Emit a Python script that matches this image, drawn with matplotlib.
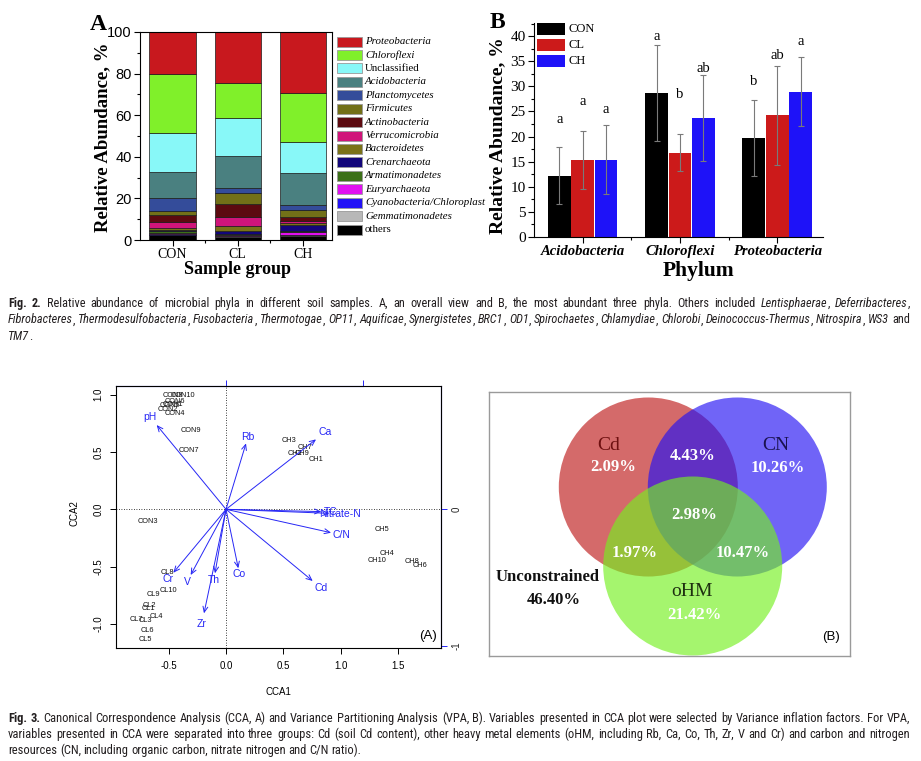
import numpy as np
import matplotlib
matplotlib.use('Agg')
import matplotlib.pyplot as plt
from matplotlib import font_manager
from matplotlib.patches import Rectangle, Circle
from matplotlib.ticker import MultipleLocator, FixedLocator

W, H = 921, 761
SERIF = 'Liberation Serif'
SANS = 'Liberation Sans'

# ---------------- Fig. 2A: relative abundance (%), legend order (top of stack first)
phyla = ['Proteobacteria', 'Chloroflexi', 'Unclassified', 'Acidobacteria', 'Planctomycetes',
         'Firmicutes', 'Actinobacteria', 'Verrucomicrobia', 'Bacteroidetes', 'Crenarchaeota',
         'Armatimonadetes', 'Euryarchaeota', 'Cyanobacteria/Chloroplast', 'Gemmatimonadetes',
         'others']
phylum_colors = ['#C8181E', '#80F02A', '#88F8F8', '#4A8080', '#344C9A',
                 '#727018', '#5C0A10', '#D0157A', '#7A7218', '#12067A',
                 '#3C7018', '#E010F0', '#2212F6', '#B8B8B8', '#000000']
groups = ['CON', 'CL', 'CH']
con_pct = [20.0, 28.5, 18.9, 12.3, 6.4, 2.1, 3.0, 2.9, 1.2, 0.5, 0.8, 0.3, 0.5, 0.4, 2.2]
cl_pct = [24.5, 16.8, 18.4, 15.2, 2.7, 5.3, 5.9, 4.5, 2.4, 1.3, 0.6, 0.3, 0.3, 0.5, 1.3]
ch_pct = [29.3, 23.7, 14.7, 15.7, 2.2, 3.2, 2.1, 1.1, 1.0, 2.7, 0.3, 1.6, 0.2, 0.2, 2.0]

# ---------------- Fig. 2B: three most abundant phyla
top_phyla = ['Acidobacteria', 'Chloroflexi', 'Proteobacteria']
con_mean = [12.2, 28.7, 19.7]
cl_mean = [15.3, 16.8, 24.2]
ch_mean = [15.4, 23.7, 28.9]
con_sd = [5.7, 9.6, 7.5]
cl_sd = [5.8, 3.7, 9.9]
ch_sd = [6.8, 8.6, 6.9]
con_sig = ['a', 'a', 'b']
cl_sig = ['a', 'b', 'ab']
ch_sig = ['a', 'ab', 'a']
con_sig_y = [23.3, 39.9, 31.0]
cl_sig_y = [27.0, 28.4, 36.1]
ch_sig_y = [25.3, 33.6, 38.9]

# ---------------- Fig. 3A: CCA site scores and biplot arrows
site_names = ['CON1', 'CON2', 'CON3', 'CON4', 'CON5', 'CON6', 'CON7', 'CON8', 'CON9', 'CON10',
              'CL1', 'CL2', 'CL3', 'CL4', 'CL5', 'CL6', 'CL7', 'CL8', 'CL9', 'CL10',
              'CH1', 'CH2', 'CH3', 'CH4', 'CH5', 'CH6', 'CH7', 'CH8', 'CH9', 'CH10']
site_x = [-0.459, -0.503, -0.677, -0.444, -0.488, -0.444, -0.322, -0.459, -0.305, -0.372,
          -0.673, -0.668, -0.706, -0.610, -0.700, -0.682, -0.778, -0.511, -0.633, -0.503,
          0.784, 0.601, 0.549, 1.405, 1.362, 1.690, 0.688, 1.623, 0.659, 1.312]
site_y = [0.918, 0.872, -0.108, 0.834, 0.901, 0.938, 0.511, 0.990, 0.685, 0.990,
          -0.867, -0.837, -0.971, -0.936, -1.131, -1.058, -0.959, -0.549, -0.745, -0.710,
          0.436, 0.488, 0.604, -0.384, -0.174, -0.494, 0.537, -0.457, 0.488, -0.442]
env_names = ['pH', 'Rb', 'Ca', 'TC', 'Nitrate-N', 'C/N', 'Cd', 'Cr', 'V', 'Th', 'Co', 'Zr']
env_x = [-0.604, 0.174, 0.784, 0.83, 0.90, 0.915, 0.755, -0.459, -0.308, -0.096, 0.107, -0.192]
env_y = [0.735, 0.575, 0.610, -0.02, -0.035, -0.204, -0.625, -0.553, -0.573, -0.558, -0.514, -0.907]

# ---------------- Fig. 3B: variance partitioning (%)
vpa_sets = ['Cd', 'CN', 'oHM']
vpa_only = [2.09, 10.26, 21.42]
vpa_cd_cn = 4.43
vpa_cd_ohm = 1.97
vpa_cn_ohm = 10.47
vpa_all = 2.98
vpa_unconstrained = 46.40

caption2 = [
  '**Fig. 2.** Relative abundance of microbial phyla in different soil samples. A, an overall view and B, the most abundant three phyla. Others included *Lentisphaerae*, *Deferribacteres*,',
  '*Fibrobacteres*, *Thermodesulfobacteria*, *Fusobacteria*, *Thermotogae*, *OP11*, *Aquificae*, *Synergistetes*, *BRC1*, *OD1*, *Spirochaetes*, *Chlamydiae*, *Chlorobi*, *Deinococcus-Thermus*, *Nitrospira*, *WS3* and',
  '*TM7*.',
]
caption3 = [
  '**Fig. 3.** Canonical Correspondence Analysis (CCA, A) and Variance Partitioning Analysis (VPA, B). Variables presented in CCA plot were selected by Variance inflation factors. For VPA,',
  'variables presented in CCA were separated into three groups: Cd (soil Cd content), other heavy metal elements (oHM, including Rb, Ca, Co, Th, Zr, V and Cr) and carbon and nitrogen',
  'resources (CN, including organic carbon, nitrate nitrogen and C/N ratio).',
]


def rect(l, t, r, b):
  return [l / W, 1 - b / H, (r - l) / W, (b - t) / H]


def fpos(x, y):
  return x / W, 1 - y / H


fig = plt.figure(figsize=(W / 100, H / 100), dpi=100)
renderer = fig.canvas.get_renderer()

# ================= Fig. 2A
axA = fig.add_axes(rect(140, 32, 332, 240))
xa = np.arange(len(groups))
stack = np.array([con_pct, cl_pct, ch_pct]).T
bottom = np.zeros(len(groups))
for i in range(len(phyla) - 1, -1, -1):
  axA.bar(xa, stack[i], 0.71, bottom=bottom, color=phylum_colors[i],
          edgecolor='#1a1a1a', linewidth=0.5, zorder=2)
  bottom += stack[i]
axA.set_xlim(-0.5, 2.45)
axA.set_ylim(0, 100)
axA.set_xticks(xa)
axA.set_xticklabels(groups, family=SERIF, fontsize=10)
axA.xaxis.set_minor_locator(FixedLocator([0.5, 1.5]))
axA.yaxis.set_major_locator(MultipleLocator(20))
axA.yaxis.set_minor_locator(MultipleLocator(10))
axA.tick_params(direction='out', length=4, width=0.8, pad=2)
axA.tick_params(which='minor', direction='out', length=2.5, width=0.8)
for lab in axA.get_yticklabels():
  lab.set_family(SANS)
  lab.set_fontsize(10.5)
for s in axA.spines.values():
  s.set_linewidth(0.8)
fig.text(*fpos(103, 137), 'Relative Abundance, %', rotation=90, ha='center', va='center',
         family=SERIF, fontweight='bold', fontsize=13.5)
fig.text(*fpos(237, 270), 'Sample group', ha='center', va='center',
         family=SERIF, fontweight='bold', fontsize=13)
fig.text(*fpos(98, 24), 'A', ha='center', va='center', family=SERIF, fontweight='bold', fontsize=17)

# legend of panel A (no frame)
for i, (name, col) in enumerate(zip(phyla, phylum_colors)):
  yc = 41.5 + i * 13.43
  fig.patches.append(Rectangle(fpos(337, yc + 5), 25 / W, 10 / H, transform=fig.transFigure,
                               facecolor=col, edgecolor='#999999', lw=0.6))
  style = 'normal' if name in ('Unclassified', 'others') else 'italic'
  fig.text(*fpos(365, yc), name, fontsize=7.8, family=SERIF, style=style, va='center')

# ================= Fig. 2B
axB = fig.add_axes(rect(534, 23, 823, 237))
xb = np.arange(len(top_phyla))
off = 0.24
series = [
  ('CON', con_mean, con_sd, con_sig, con_sig_y, '#000000'),
  ('CL', cl_mean, cl_sd, cl_sig, cl_sig_y, '#CC1A1A'),
  ('CH', ch_mean, ch_sd, ch_sig, ch_sig_y, '#1E12F8'),
]
for k, (name, mean, sd, sig, sig_y, col) in enumerate(series):
  pos = xb + (k - 1) * off
  axB.bar(pos, mean, 0.235, color=col, edgecolor='none', zorder=2)
  axB.errorbar(pos, mean, yerr=sd, fmt='none', ecolor='#7a7a7a', elinewidth=0.8,
               capsize=2.2, capthick=0.8, zorder=3)
  for p, s, yy in zip(pos, sig, sig_y):
    axB.text(p, yy, s, ha='center', va='center', fontsize=10.5, family=SERIF)
  yc = 29.2 + k * 15.8
  fig.patches.append(Rectangle(fpos(537, yc + 6), 28 / W, 12 / H, transform=fig.transFigure,
                               facecolor=col, edgecolor='none'))
  fig.text(*fpos(568, yc), name, fontsize=9, family=SERIF, va='center')
axB.set_xlim(-0.5, 2.47)
axB.set_ylim(0, 42.6)
axB.set_xticks(xb)
axB.set_xticklabels(top_phyla, family=SERIF, fontsize=10.5, fontweight='bold', style='italic')
axB.xaxis.set_minor_locator(FixedLocator([0.5, 1.5]))
axB.yaxis.set_major_locator(MultipleLocator(5))
axB.yaxis.set_minor_locator(MultipleLocator(2.5))
axB.tick_params(direction='out', length=4, width=0.8, pad=2)
axB.tick_params(which='minor', direction='out', length=2.5, width=0.8)
for lab in axB.get_yticklabels():
  lab.set_family(SERIF)
  lab.set_fontsize(11)
axB.spines['top'].set_visible(False)
axB.spines['right'].set_visible(False)
fig.text(*fpos(498, 136), 'Relative Abundance, %', rotation=90, ha='center', va='center',
         family=SERIF, fontweight='bold', fontsize=14)
fig.text(*fpos(698, 271), 'Phylum', ha='center', va='center',
         family=SERIF, fontweight='bold', fontsize=15.5)
fig.text(*fpos(497, 23), 'B', ha='center', va='center', family=SERIF, fontweight='bold', fontsize=17)

# ================= Fig. 3A (CCA biplot)
blue = '#2626F5'
axC = fig.add_axes(rect(115.7, 385.7, 440.7, 648.3))
axC.set_xlim(-0.961, 1.870)
axC.set_ylim(-1.212, 1.078)
axC.axhline(0, color='k', ls=(0, (1, 2)), lw=0.6)
axC.axvline(0, color='k', ls=(0, (1, 2)), lw=0.6)
for n, x, y in zip(site_names, site_x, site_y):
  axC.text(x, y, n, fontsize=5.3, family=SANS, ha='center', va='center', color='#111111')
for n, x, y in zip(env_names, env_x, env_y):
  axC.annotate('', xy=(x, y), xytext=(0, 0),
               arrowprops=dict(arrowstyle='->,head_length=0.5,head_width=0.22', color=blue,
                               lw=0.7, shrinkA=0, shrinkB=0, mutation_scale=8))
  axC.text(1.1 * x, 1.1 * y, n, color=blue, fontsize=7.5, family=SANS, ha='center', va='center')
axC.set_xticks([-0.5, 0, 0.5, 1, 1.5])
axC.set_xticklabels(['-0.5', '0.0', '0.5', '1.0', '1.5'])
axC.set_yticks([-1, -0.5, 0, 0.5, 1])
axC.set_yticklabels(['-1.0', '-0.5', '0.0', '0.5', '1.0'], rotation=90, va='center')
axC.tick_params(direction='out', length=4, width=0.7, labelsize=7, pad=5)
for lab in axC.get_xticklabels() + axC.get_yticklabels():
  lab.set_family(SANS)
for s in axC.spines.values():
  s.set_linewidth(0.8)

k = 1.193  # biplot arrow scale
sec_top = axC.secondary_xaxis('top', functions=(lambda v: v / k, lambda v: v * k))
sec_top.set_xticks([-1, 0, 1])
sec_top.set_xticklabels([])
sec_top.tick_params(colors=blue, length=4, width=0.7, direction='out')
sec_top.spines['top'].set_color(blue)
sec_top.spines['top'].set_bounds(-0.961 / k, 1)
sec_right = axC.secondary_yaxis('right', functions=(lambda v: v / k, lambda v: v * k))
sec_right.set_yticks([-1, 0, 1])
sec_right.set_yticklabels(['-1', '0', '1'], rotation=90, va='center')
sec_right.tick_params(colors=blue, labelcolor='#222222', length=4, width=0.7,
                      direction='out', labelsize=7, pad=4)
sec_right.spines['right'].set_color(blue)
for lab in sec_right.get_yticklabels():
  lab.set_family(SANS)

fig.text(*fpos(278, 692), 'CCA1', ha='center', va='center', family=SANS, fontsize=7)
fig.text(*fpos(75, 513), 'CCA2', ha='center', va='center', family=SANS, fontsize=7, rotation=90)
fig.text(*fpos(428, 636), '(A)', ha='center', va='center', family=SANS, fontsize=9.5)

# ================= Fig. 3B (Venn)
axV = fig.add_axes(rect(489, 392, 850, 656))
axV.set_xlim(489, 850)
axV.set_ylim(656, 392)
axV.set_xticks([])
axV.set_yticks([])
for s in axV.spines.values():
  s.set_color('#9a9a9a')
  s.set_linewidth(1)
r = 89.5
axV.add_patch(Circle((648.3, 487), r, facecolor=(190 / 255, 26 / 255, 26 / 255), alpha=0.65, lw=0))
axV.add_patch(Circle((737.3, 487), r, facecolor=(35 / 255, 17 / 255, 244 / 255), alpha=0.65, lw=0))
axV.add_patch(Circle((692.7, 566), r, facecolor=(117 / 255, 240 / 255, 32 / 255), alpha=0.65, lw=0))

vfont = dict(family=SERIF, ha='center', va='center')
axV.text(609, 445, vpa_sets[0], color='#6E1010', fontsize=14, **vfont)
axV.text(776, 445, vpa_sets[1], color='#1A1250', fontsize=14, **vfont)
axV.text(692, 592, vpa_sets[2], color='#1E3010', fontsize=14, **vfont)
num = dict(color='white', fontsize=12, fontweight='bold', **vfont)
axV.text(613, 467, '%.2f%%' % vpa_only[0], **num)
axV.text(778, 468, '%.2f%%' % vpa_only[1], **num)
axV.text(694, 615, '%.2f%%' % vpa_only[2], **num)
axV.text(693, 456, '%.2f%%' % vpa_cd_cn, **num)
axV.text(635, 553, '%.2f%%' % vpa_cd_ohm, **num)
axV.text(743, 553, '%.2f%%' % vpa_cn_ohm, **num)
axV.text(694, 515, '%.2f%%' % vpa_all, **num)
axV.text(548, 577, 'Unconstrained', color='#111111', fontsize=12, fontweight='bold', **vfont)
axV.text(554, 600, '%.2f%%' % vpa_unconstrained, color='#111111', fontsize=12,
         fontweight='bold', **vfont)
axV.text(831, 637, '(B)', family=SANS, fontsize=9.5, ha='center', va='center')

# ================= captions (justified lines), condensed sans if one is installed
CAP, CAP_STRETCH = SANS, 'normal'
for f in font_manager.fontManager.ttflist:
  if f.stretch in ('condensed', 'semi-condensed', 500 - 125, 'narrow') and f.style == 'normal' \
     and 'Serif' not in f.name and 'Mono' not in f.name:
    CAP, CAP_STRETCH = f.name, f.stretch
    break
for cand in ('Liberation Sans Narrow', 'Roboto Condensed', 'Noto Sans Condensed',
             'Open Sans Condensed', 'Arial Narrow'):
  if cand in {f.name for f in font_manager.fontManager.ttflist}:
    CAP, CAP_STRETCH = cand, 'normal'
    break


def parse_words(line):
  words, state = [], 'normal'
  for raw in line.split(' '):
    pieces, buf, i = [], '', 0
    while i < len(raw):
      if raw.startswith('**', i):
        if buf:
          pieces.append((buf, state))
          buf = ''
        state = 'normal' if state == 'bold' else 'bold'
        i += 2
      elif raw[i] == '*':
        if buf:
          pieces.append((buf, state))
          buf = ''
        state = 'normal' if state == 'italic' else 'italic'
        i += 1
      else:
        buf += raw[i]
        i += 1
    if buf:
      pieces.append((buf, state))
    words.append(pieces)
  return words


def caption(lines, x0, x1, y0, dy, size):
  rows = []
  for line in lines:
    row = []
    for word in parse_words(line):
      row.append([fig.text(0, 0, t, fontsize=size, family=CAP, fontstretch=CAP_STRETCH,
                           color='#231f20',
                           fontweight='bold' if s == 'bold' else 'normal',
                           style='italic' if s == 'italic' else 'normal',
                           ha='left', va='baseline') for t, s in word])
    rows.append(row)

  def widths():
    return [[[a.get_window_extent(renderer).width for a in w] for w in row] for row in rows]

  space = 0.22 * size * 100 / 72
  wd = widths()
  ratio = min((x1 - x0) / (sum(sum(w) for w in row) + space * (len(row) - 1))
              for row in wd[:-1])
  if ratio < 1:
    size *= ratio
    space *= ratio
    for row in rows:
      for w in row:
        for a in w:
          a.set_fontsize(size)
    wd = widths()
  for j, (row, rw) in enumerate(zip(rows, wd)):
    total = sum(sum(w) for w in rw)
    gap = (x1 - x0 - total) / (len(row) - 1) if j < len(rows) - 1 else space
    x = x0
    for w, ww in zip(row, rw):
      for a, aw in zip(w, ww):
        a.set_position(fpos(x, y0 + j * dy))
        x += aw
      x += gap


caption(caption2, 8, 910, 307, 16.3, 9.6)
caption(caption3, 8, 910, 722, 16, 9.6)

fig.savefig('out.png', dpi=100, facecolor='white')
